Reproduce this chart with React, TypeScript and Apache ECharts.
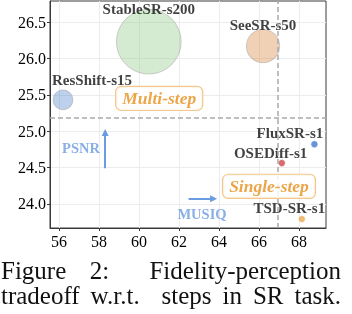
import React, { useEffect, useRef } from "react";
import * as echarts from "echarts";

// ---- data ----
const methods = ["StableSR-s200", "SeeSR-s50", "ResShift-s15", "FluxSR-s1", "OSEDiff-s1", "TSD-SR-s1"];
const musiq = [60.49, 66.2, 56.2, 68.77, 67.14, 68.14];
const psnr = [26.23, 26.17, 25.43, 24.82, 24.56, 23.79];
const steps = [200, 50, 15, 1, 1, 1];

const xTicks = [56, 58, 60, 62, 64, 66, 68];
const yTicks = [24.0, 24.5, 25.0, 25.5, 26.0, 26.5];
const xRange = [55.55, 69.35];
const yRange = [23.667, 26.79];

const splitMusiq = 66.94;
const splitPsnr = 25.19;

const groupNames = ["Multi-step", "Single-step"];
const groupMusiq = [61.01, 66.5];
const groupPsnr = [25.45, 24.24];

const axisNames = ["PSNR", "MUSIQ"];
const axisNameMusiq = [57.1, 63.15];
const axisNamePsnr = [24.77, 23.855];
const arrowStart = [[58.31, 24.49], [62.48, 24.07]];
const arrowEnd = [[58.31, 24.98], [63.73, 24.07]];

const captionLines = [
  ["Figure", "2:", "Fidelity-perception"],
  ["tradeoff", "w.r.t.", "steps", "in", "SR", "task."],
];

// ---- styles ----
const FONT = "Liberation Serif";
const colors: Record<string, string> = {
  "StableSR-s200": "rgba(150, 205, 140, 0.5)",
  "SeeSR-s50": "rgba(220, 140, 70, 0.5)",
  "ResShift-s15": "rgba(90, 140, 210, 0.5)",
  "FluxSR-s1": "rgba(55, 115, 205, 0.95)",
  "OSEDiff-s1": "rgba(205, 60, 60, 0.95)",
  "TSD-SR-s1": "rgba(235, 165, 75, 0.95)",
};
const labelOffsets: Record<string, number[]> = {
  "StableSR-s200": [0, -33],
  "SeeSR-s50": [0, -21],
  "ResShift-s15": [29, -20],
  "FluxSR-s1": [-24.5, -10.8],
  "OSEDiff-s1": [-11.2, -10],
  "TSD-SR-s1": [-12.5, -10.6],
};
const sizeFor = (s: number) => (s > 1 ? Math.sqrt(20.5 * s + 80) : 7);

function justify(words: string[], weights: number[], x0: number, x1: number, font: string) {
  const ctx = document.createElement("canvas").getContext("2d")!;
  ctx.font = font;
  const widths = words.map((w) => ctx.measureText(w).width);
  const total = widths.reduce((a, b) => a + b, 0);
  const free = x1 - x0 - total;
  const wsum = weights.reduce((a, b) => a + b, 0);
  const xs: number[] = [];
  let x = x0;
  words.forEach((_, i) => {
    xs.push(x);
    x += widths[i] + (i < weights.length ? (free * weights[i]) / wsum : 0);
  });
  return xs;
}

export default function App() {
  const ref = useRef<HTMLDivElement>(null);
  useEffect(() => {
    const chart = echarts.init(ref.current!, null, { renderer: "svg" });
    const capFont = 25;
    const capFontStr = `${capFont}px "${FONT}"`;
    const lineWeights = [[1, 1.7], [1, 2, 1, 1, 1]];
    const lineY = [270, 295];
    const graphics: any[] = [];
    captionLines.forEach((words, li) => {
      const xs = justify(words, lineWeights[li], 1, 341, capFontStr);
      words.forEach((w, i) => {
        graphics.push({
          type: "text",
          id: `cap-${li}-${i}`,
          x: xs[i],
          y: lineY[li],
          style: {
            text: w,
            fontFamily: FONT,
            fontSize: capFont,
            fill: "#111",
            align: "left",
            verticalAlign: "middle",
          },
        });
      });
    });

    const option: any = {
      animation: false,
      textStyle: { fontFamily: FONT },
      grid: { left: 50, top: 1, width: 276, height: 227, show: true, borderColor: "#3a3a3a", borderWidth: 1, backgroundColor: "transparent" },
      xAxis: {
        type: "value",
        min: xRange[0],
        max: xRange[1],
        axisLine: { show: true, lineStyle: { color: "#3a3a3a", width: 1 } },
        axisTick: { show: true, length: 3, customValues: xTicks, lineStyle: { color: "#3a3a3a" } },
        axisLabel: { customValues: xTicks, fontSize: 16, color: "#000", margin: 5, fontFamily: FONT },
        splitLine: { show: true, lineStyle: { color: "#ececec", width: 1 } },
      },
      yAxis: {
        type: "value",
        min: yRange[0],
        max: yRange[1],
        axisLine: { show: true, lineStyle: { color: "#3a3a3a", width: 1 } },
        axisTick: { show: true, length: 3, customValues: yTicks, lineStyle: { color: "#3a3a3a" } },
        axisLabel: { customValues: yTicks, fontSize: 16, color: "#000", margin: 4, fontFamily: FONT, formatter: (v: number) => v.toFixed(1) },
        splitLine: { show: true, lineStyle: { color: "#ececec", width: 1 } },
      },
      series: [
        {
          type: "scatter",
          z: 3,
          data: methods.map((m, i) => ({
            name: m,
            value: [musiq[i], psnr[i]],
            symbolSize: sizeFor(steps[i]),
            itemStyle: {
              color: colors[m],
              borderColor: steps[i] > 1 ? "rgba(150,150,150,0.55)" : "rgba(255,255,255,0.6)",
              borderWidth: 1,
            },
            label: { offset: labelOffsets[m] },
          })),
          label: {
            show: true,
            position: "inside",
            formatter: (p: any) => p.name,
            fontFamily: FONT,
            fontWeight: "bold",
            fontSize: 15,
            color: "#111",
          },
          markLine: {
            silent: true,
            symbol: "none",
            z: 4,
            label: { show: false },
            lineStyle: { type: [5, 3], color: "#a9a9a9", width: 1.5 },
            data: [{ xAxis: splitMusiq }, { yAxis: splitPsnr }],
          },
        },
        {
          type: "lines",
          coordinateSystem: "cartesian2d",
          z: 5,
          symbol: ["none", "triangle"],
          symbolSize: [6, 7],
          lineStyle: { color: "#6b9be0", width: 2, opacity: 1 },
          data: arrowStart.map((s, i) => ({ coords: [s, arrowEnd[i]] })),
        },
        {
          type: "scatter",
          z: 6,
          symbolSize: 0,
          data: axisNames.map((n, i) => ({ name: n, value: [axisNameMusiq[i], axisNamePsnr[i]] })),
          label: {
            show: true,
            position: "inside",
            formatter: (p: any) => p.name,
            fontFamily: FONT,
            fontWeight: "bold",
            fontSize: 14.5,
            color: "#6b9be0",
          },
        },
      ],
    };
    chart.setOption(option);

    // group annotation boxes, placed through the chart's own scales
    groupNames.forEach((n, i) => {
      const [px, py] = chart.convertToPixel({ gridIndex: 0 }, [groupMusiq[i], groupPsnr[i]]) as number[];
      graphics.push({
        type: "text",
        id: `grp-${i}`,
        x: px,
        y: py,
        z: 100,
        style: {
          text: n,
          fontFamily: FONT,
          fontWeight: "bold",
          fontStyle: "italic",
          fontSize: 17.5,
          fill: "#eca64a",
          align: "center",
          verticalAlign: "middle",
          backgroundColor: "rgba(255,255,255,0.85)",
          borderColor: "#f3c88c",
          borderWidth: 1.2,
          borderRadius: 5,
          padding: [3, 6, 2, 6],
        },
      });
    });
    chart.setOption({ graphic: graphics });
    return () => chart.dispose();
  }, []);
  return <div ref={ref} style={{ position: "fixed", left: 0, top: 0, width: 352, height: 314 }} />;
}
